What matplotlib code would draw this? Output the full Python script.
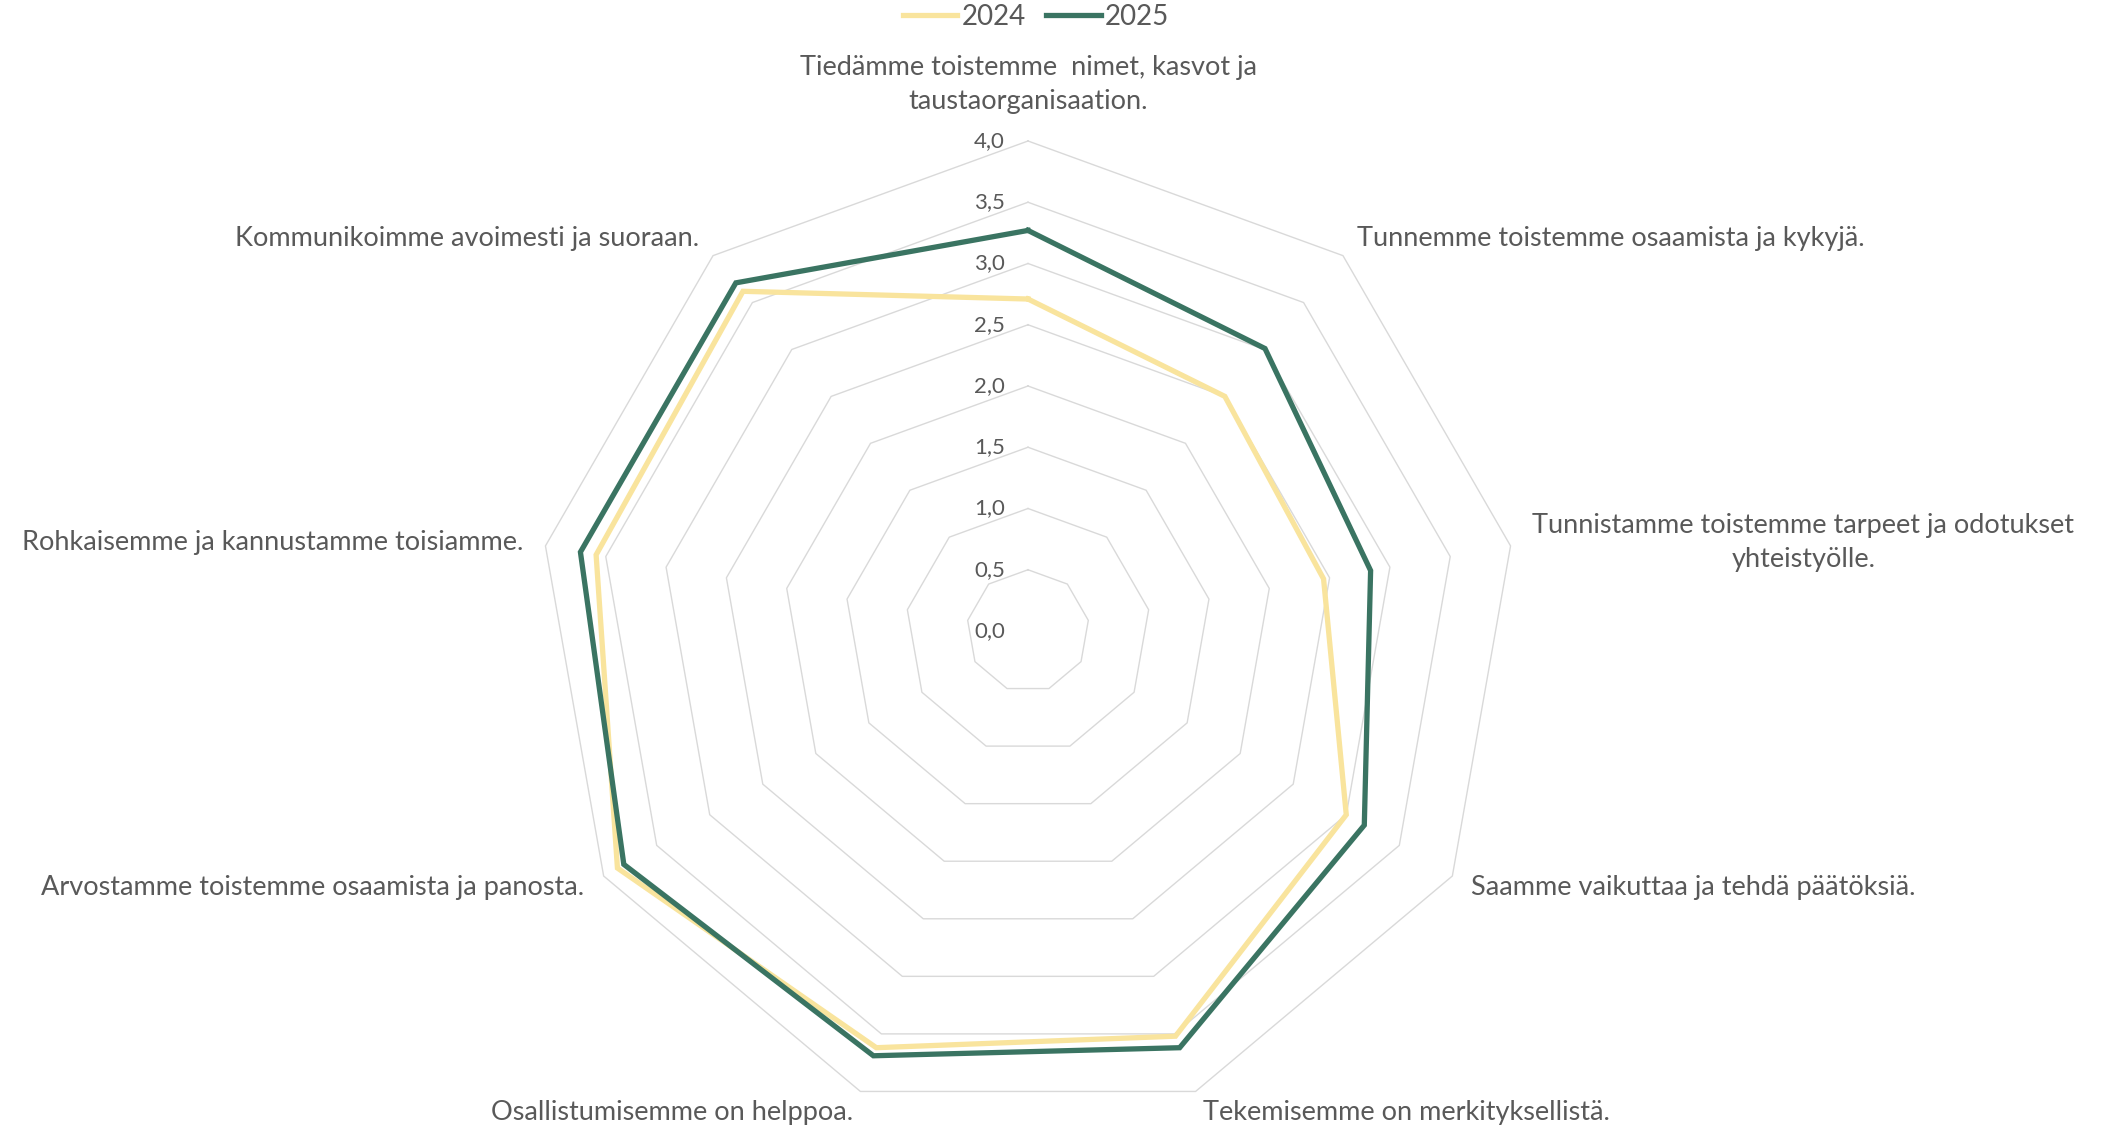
import numpy as np
import matplotlib.pyplot as plt

plt.rcParams['font.family'] = ['Lato', 'DejaVu Sans']

categories = [
    "Tiedämme toistemme  nimet, kasvot ja\ntaustaorganisaation.",
    "Tunnemme toistemme osaamista ja kykyjä.",
    "Tunnistamme toistemme tarpeet ja odotukset\nyhteistyölle.",
    "Saamme vaikuttaa ja tehdä päätöksiä.",
    "Tekemisemme on merkityksellistä.",
    "Osallistumisemme on helppoa.",
    "Arvostamme toistemme osaamista ja panosta.",
    "Rohkaisemme ja kannustamme toisiamme.",
    "Kommunikoimme avoimesti ja suoraan.",
]
values_2024 = [2.71, 2.50, 2.45, 3.00, 3.52, 3.62, 3.87, 3.58, 3.62]
values_2025 = [3.27, 3.01, 2.84, 3.17, 3.62, 3.69, 3.81, 3.71, 3.71]
ring_values = [0.5, 1.0, 1.5, 2.0, 2.5, 3.0, 3.5, 4.0]
tick_values = [0.0, 0.5, 1.0, 1.5, 2.0, 2.5, 3.0, 3.5, 4.0]

TEXT = '#595959'
GRID = '#D9D9D9'
C2024 = '#F9E49D'
C2025 = '#3A7462'

W, H = 2113, 1127
fig = plt.figure(figsize=(W / 100, H / 100), dpi=100)

cx, cy, R = 1028, 631, 490
ax = fig.add_axes([(cx - R) / W, (H - cy - R) / H, 2 * R / W, 2 * R / H],
                  projection='polar')
ax.set_theta_offset(np.pi / 2)
ax.set_theta_direction(-1)
ax.set_ylim(0, 4)
ax.grid(False)
ax.spines['polar'].set_visible(False)
ax.set_xticks([])
ax.set_yticks([])
ax.patch.set_alpha(0)

n = len(categories)
angles = np.linspace(0, 2 * np.pi, n, endpoint=False)
closed = np.append(angles, angles[0])

# polygon gridlines
for r in ring_values:
    ax.plot(closed, [r] * (n + 1), color=GRID, lw=1.0, zorder=1, clip_on=False)

# radial tick labels along the top spoke
for t in tick_values:
    ax.annotate(f"{t:.1f}".replace('.', ','), xy=(0, t), xytext=(-23, 0),
                textcoords='offset pixels', ha='right', va='center',
                fontsize=16, color=TEXT)

l1, = ax.plot(closed, values_2024 + values_2024[:1], color=C2024, lw=3.8,
              zorder=3, clip_on=False, solid_joinstyle='miter', label='2024')
l2, = ax.plot(closed, values_2025 + values_2025[:1], color=C2025, lw=3.8,
              zorder=4, clip_on=False, solid_joinstyle='miter', label='2025')

# category labels outside the 4.0 ring
gap = 22
for ang, lab in zip(angles, categories):
    # screen direction (theta measured clockwise from top)
    dx, dy = np.sin(ang), np.cos(ang)
    if abs(dx) < 0.1:
        ha, va = 'center', 'bottom'
        off = (0, 27)
    else:
        ha = 'left' if dx > 0 else 'right'
        va = 'center'
        off = (gap * dx, gap * dy)
    ax.annotate(lab, xy=(ang, 4.0), xytext=off, textcoords='offset pixels',
                ha=ha, va=va, multialignment='center', fontsize=19.5,
                color=TEXT, linespacing=1.45)

fig.legend(handles=[l1, l2], loc='center', bbox_to_anchor=(1036 / W, 1 - 17 / H),
           ncol=2, frameon=False, fontsize=20, handlelength=1.95,
           handletextpad=0.15, columnspacing=0.75, labelcolor=TEXT)

fig.savefig('out.png', dpi=100)
